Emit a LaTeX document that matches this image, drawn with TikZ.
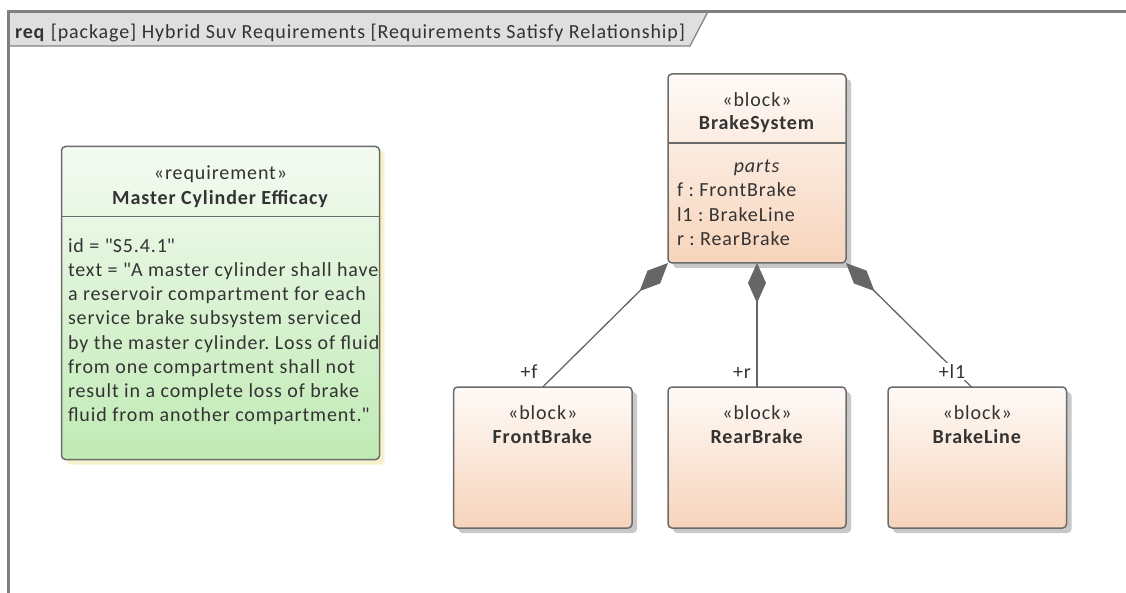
\documentclass[tikz,border=0pt]{standalone}
\usepackage{fontspec}
\setmainfont{Carlito}[LetterSpace=4.5]
\usetikzlibrary{shadows,arrows.meta}
\definecolor{framegray}{HTML}{808080}
\definecolor{tabgray}{HTML}{DFDFDF}
\definecolor{bordergray}{HTML}{6B6B6B}
\definecolor{txt}{HTML}{333333}
\definecolor{blktop}{HTML}{FEFAF7}
\definecolor{blkbot}{HTML}{F7D4BB}
\definecolor{reqtop}{HTML}{F4FBF2}
\definecolor{reqbot}{HTML}{C0EAB4}
\definecolor{shgray}{HTML}{C8C8C8}
\definecolor{shyellow}{HTML}{F6F2CC}
\definecolor{diagray}{HTML}{666666}
\newcommand{\dq}{\textquotedbl}
\frenchspacing
\begin{document}
\begin{tikzpicture}[x=1pt,y=-1pt,
  txtnode/.style={inner sep=0pt, outer sep=0pt, text=txt, font=\fontsize{20}{24}\selectfont},
  box/.style={draw=bordergray, line width=1.5pt, rounded corners=4pt, inner sep=0pt, outer sep=0pt, anchor=north west},
  blockbox/.style={box, top color=blktop, bottom color=blkbot,
    drop shadow={shadow xshift=5pt, shadow yshift=-5pt, fill=shgray, opacity=1}},
  reqbox/.style={box, top color=reqtop, bottom color=reqbot,
    drop shadow={shadow xshift=5pt, shadow yshift=-5pt, fill=shyellow, opacity=1}},
  divider/.style={draw=bordergray, line width=1.2pt},
  rolelabel/.style={txtnode, fill=white, inner sep=1.5pt},
  comp/.style={draw=diagray, line width=1.3pt, -{Diamond[length=40pt,width=18pt,color=diagray,fill=diagray]}}
]
\useasboundingbox (0,0) rectangle (1126,593);
% frame
\fill[tabgray] (8.5,11.5) -- (708,11.5) -- (690,46) -- (8.5,46) -- cycle;
\draw[framegray, line width=1.2pt] (708,11.5) -- (690,46) -- (8.5,46);
\draw[framegray, line width=2.2pt] (1126,11.5) -- (8.5,11.5) -- (8.5,593);
\node[txtnode, anchor=base west] (title) at (15,39) {\textbf{req} [package] Hybrid Suv Requirements [Requirements Satisfy Relationship]};

% requirement
\node[reqbox, minimum width=318pt, minimum height=313pt] (req) at (61.5,146.5) {};
\draw[divider] (61.5,216.7) -- (379.5,216.7);
\node[txtnode, anchor=base] (reqst) at (220.5,179.5) {«requirement»};
\node[txtnode, anchor=base] (reqname) at (220.5,204.5) {\textbf{Master Cylinder Efficacy}};
\foreach \t [count=\i] in {{id = \dq S5.4.1\dq},{text = \dq A master cylinder shall have},{a reservoir compartment for each},{service brake subsystem serviced},{by the master cylinder. Loss of fluid},{from one compartment shall not},{result in a complete loss of brake},{fluid from another compartment.\dq}}
  \node[txtnode, anchor=base west] (reql\i) at (68,252.5+24.15*\i-24.15) {\t};

% BrakeSystem
\node[blockbox, minimum width=178pt, minimum height=189pt] (bs) at (668,74) {};
\draw[divider] (668,143) -- (846,143);
\node[txtnode, anchor=base] (bsst) at (757,106.5) {«block»};
\node[txtnode, anchor=base] (bsname) at (757,130) {\textbf{BrakeSystem}};
\node[txtnode, anchor=base] (bsparts) at (757,173) {\textit{parts}};
\node[txtnode, anchor=base west] (bsp1) at (677,197) {f : FrontBrake};
\node[txtnode, anchor=base west] (bsp2) at (677,221.2) {l1 : BrakeLine};
\node[txtnode, anchor=base west] (bsp3) at (677,245.4) {r : RearBrake};

% parts
\node[blockbox, minimum width=178.5pt, minimum height=141pt] (fb) at (453.5,387) {};
\node[txtnode, anchor=base] (fbst) at (fb.north |- 0,419.5) {«block»};
\node[txtnode, anchor=base] (fbname) at (fb.north |- 0,443.5) {\textbf{FrontBrake}};

\node[blockbox, minimum width=178pt, minimum height=141pt] (rb) at (668,387) {};
\node[txtnode, anchor=base] (rbst) at (rb.north |- 0,419.5) {«block»};
\node[txtnode, anchor=base] (rbname) at (rb.north |- 0,443.5) {\textbf{RearBrake}};

\node[blockbox, minimum width=178.5pt, minimum height=141pt] (bl) at (888,387) {};
\node[txtnode, anchor=base] (blst) at (bl.north |- 0,419.5) {«block»};
\node[txtnode, anchor=base] (blname) at (bl.north |- 0,443.5) {\textbf{BrakeLine}};

% connectors
\coordinate (blend) at (971.5,387);
\draw[comp] (fb.north) -- (bs.south west);
\draw[comp] (rb.north) -- (bs.south);
\draw[comp] (blend) -- (bs.south east);
\node[rolelabel, anchor=base] (lf) at (529,378.5) {+f};
\node[rolelabel, anchor=base] (lr) at (742,378.5) {+r};
\node[rolelabel, anchor=base] (ll) at (952,378.5) {+l1};
\end{tikzpicture}
\end{document}
